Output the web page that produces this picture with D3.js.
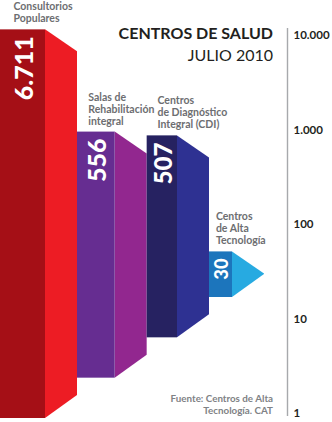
<!DOCTYPE html>
<html>
<head>
<meta charset="utf-8">
<script src="https://cdn.jsdelivr.net/npm/d3@7/dist/d3.min.js"></script>
<style>
  html, body { margin: 0; padding: 0; background: #fff; }
  svg { display: block; font-family: Lato, "Open Sans", sans-serif; }
</style>
</head>
<body>
<svg id="chart" width="332" height="422"></svg>
<script>
// Centros de salud, julio 2010 — número de centros por tipo (escala logarítmica)
const categories = [
  ["Consultorios", "Populares"],
  ["Salas de", "Rehabilitación", "integral"],
  ["Centros", "de Diagnóstico", "Integral (CDI)"],
  ["Centros", "de Alta", "Tecnología"]
];
const values = [6711, 556, 507, 30];
const tickValues = [1, 10, 100, 1000, 10000];

const frontColors = ["#A50F16", "#662D91", "#262261", "#1C75BC"];
const sideColors  = ["#ED1C24", "#92278F", "#2E3192", "#27AAE1"];

const locale = d3.formatLocale({ decimal: ",", thousands: ".", grouping: [3], currency: ["", ""] });
const fmt = locale.format(",");

const svg = d3.select("#chart");
const n = values.length;

// value axis (log)
const y = d3.scaleLog().domain([1, 10000]).range([413, 35]);

// stair layout: front face narrows, floor steps up with each block
const idx = d3.scaleLinear().domain([0, n - 1]);
const frontW = idx.copy().range([45, 23]);
const floor = idx.copy().range([418, 297]);
const sideW = 32, depth = 22;

let xCursor = 0;
const blocks = values.map((v, i) => {
  const b = {
    i, v,
    x0: xCursor,
    w: frontW(i),
    peak: y(v),          // far corner of the side face sits on the value
    bottom: floor(i)
  };
  b.top = b.peak - depth;
  b.xf = b.x0 + b.w;
  xCursor = b.xf + sideW;
  return b;
});

const g = svg.append("g");

// side faces
g.selectAll("polygon.side").data(blocks).join("polygon")
  .attr("class", "side")
  .attr("fill", d => sideColors[d.i])
  .attr("points", d => [
    [d.xf, d.top],
    [d.xf + sideW, d.top + depth],
    [d.xf + sideW, d.bottom - depth - 1],
    [d.xf, d.bottom]
  ].map(p => p.join(",")).join(" "));

// front faces
g.selectAll("rect.front").data(blocks).join("rect")
  .attr("class", "front")
  .attr("x", d => d.x0)
  .attr("y", d => d.top)
  .attr("width", d => d.w)
  .attr("height", d => d.bottom - d.top)
  .attr("fill", d => frontColors[d.i]);

// values, rotated inside the front faces
g.selectAll("text.val").data(blocks).join("text")
  .attr("class", "val")
  .attr("transform", d => `translate(${d.x0 + d.w / 2 + 1},${d.top + 7}) rotate(-90)`)
  .attr("text-anchor", "end")
  .attr("dy", "0.36em")
  .attr("fill", "#fff")
  .attr("font-weight", 900)
  .attr("font-size", d => Math.min(25, d.w * 0.8))
  .text(d => fmt(d.v));

// category names above each block; a label is nudged right if it would run into the previous one
const lineH = 12;
let prevBox = null;
g.selectAll("text.cat").data(blocks).join("text")
  .attr("class", "cat")
  .attr("fill", "#6D6E71")
  .attr("font-weight", 700)
  .attr("font-size", 10.5)
  .each(function(d) {
    const lines = categories[d.i];
    const last = d.top - 7;
    const sel = d3.select(this);
    const spans = sel.selectAll("tspan").data(lines).join("tspan")
      .attr("x", d.x0 + d.w * 0.3)
      .attr("y", (t, k) => last - (lines.length - 1 - k) * lineH)
      .text(t => t);
    let box = this.getBBox();
    if (prevBox && box.x < prevBox.x + prevBox.width + 3 &&
        box.y < prevBox.y + prevBox.height && prevBox.y < box.y + box.height) {
      const shift = prevBox.x + prevBox.width + 3 - box.x;
      spans.attr("x", d.x0 + d.w * 0.3 + shift);
      box = this.getBBox();
    }
    prevBox = box;
  });

// axis
const axisX = 287.5;
const axis = svg.append("g")
  .attr("transform", `translate(${axisX},0)`)
  .call(d3.axisRight(y).tickValues(tickValues).tickSize(0).tickPadding(6).tickFormat(fmt));
axis.select(".domain").remove();
axis.append("line")
  .attr("y1", y(10000) - 7).attr("y2", y(1) + 3)
  .attr("stroke", "#A7A9AC").attr("stroke-width", 1.4);
axis.selectAll("text")
  .attr("fill", "#231F20")
  .attr("font-family", "Lato, sans-serif")
  .attr("font-weight", 700)
  .attr("font-size", 11.5);

// title
svg.append("text")
  .attr("x", 273).attr("y", 39)
  .attr("text-anchor", "end")
  .attr("fill", "#231F20")
  .attr("font-weight", 700)
  .attr("font-size", 16)
  .text("CENTROS DE SALUD");
svg.append("text")
  .attr("x", 273).attr("y", 61)
  .attr("text-anchor", "end")
  .attr("fill", "#231F20")
  .attr("font-weight", 400)
  .attr("font-size", 16)
  .text("JULIO 2010");

// source
const src = svg.append("text")
  .attr("text-anchor", "end")
  .attr("fill", "#808285")
  .attr("font-weight", 700)
  .attr("font-size", 9.8);
src.append("tspan").attr("x", 273).attr("y", 402).text("Fuente: Centros de Alta");
src.append("tspan").attr("x", 273).attr("y", 414).text("Tecnología. CAT");
</script>
</body>
</html>
